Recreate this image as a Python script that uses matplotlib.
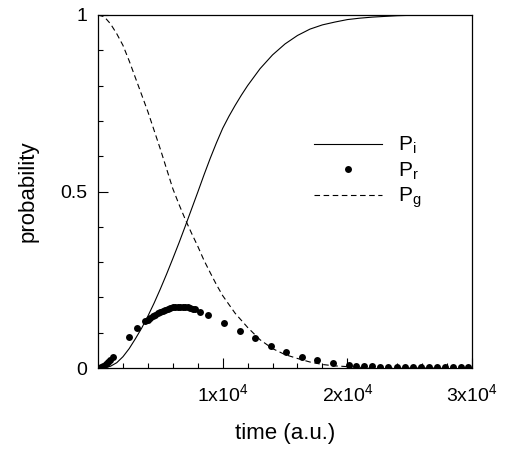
import matplotlib
matplotlib.use('Agg')
import matplotlib.pyplot as plt
import numpy as np

plt.rcParams['font.family'] = ['Liberation Sans', 'DejaVu Sans']
plt.rcParams['mathtext.fontset'] = 'custom'
plt.rcParams['mathtext.rm'] = 'Liberation Sans'
plt.rcParams['mathtext.it'] = 'Liberation Sans'

# P_i (solid line)
t_i = [0, 500, 1000, 1500, 2000, 2500, 3000, 3500, 4000, 4500, 5000, 5500,
       6000, 6500, 7000, 7500, 8000, 8500, 9000, 9500, 10000, 10500,
       11000, 11500, 12000, 13000, 14000, 15000, 16000, 17000, 18000,
       19000, 20000, 21000, 22000, 23000, 24000, 25000, 26000, 30000]
p_i = [0.0, 0.001, 0.005, 0.015, 0.032, 0.055, 0.083, 0.113, 0.147, 0.184,
       0.224, 0.266, 0.310, 0.355, 0.402, 0.450, 0.498, 0.547, 0.594,
       0.638, 0.679, 0.713, 0.744, 0.773, 0.800, 0.848, 0.887, 0.918,
       0.942, 0.960, 0.972, 0.980, 0.987, 0.991, 0.994, 0.996, 0.998,
       0.999, 1.0, 1.0]

# P_g (dashed line)
t_g = [0, 500, 1000, 1500, 2000, 2500, 3000, 3500, 4000, 4500, 5000, 5500,
       6000, 6500, 7000, 7500, 8000, 8500, 9000, 9500, 10000, 11000, 12000,
       13000, 14000, 15000, 16000, 17000, 18000, 19000, 20000, 21000,
       22000, 24000, 30000]
p_g = [1.0, 0.995, 0.975, 0.947, 0.914, 0.870, 0.822, 0.774, 0.726, 0.673,
       0.620, 0.564, 0.508, 0.463, 0.421, 0.382, 0.345, 0.305, 0.270,
       0.236, 0.205, 0.155, 0.115, 0.080, 0.055, 0.038, 0.027, 0.017,
       0.010, 0.006, 0.004, 0.002, 0.001, 0.0, 0.0]

# P_r (dots)
t_r = [200, 400, 600, 800, 1000, 1200, 2500, 3150, 3800,
       4000, 4200, 4400, 4600, 4800, 5000, 5200, 5400, 5600, 5800, 6000,
       6200, 6400, 6600, 6800, 7000, 7200, 7400, 7600, 7800,
       8200, 8850, 10100, 11350, 12600, 13850, 15100, 16350, 17600, 18850,
       20100, 20700, 21350, 22000, 22650, 23300, 23950, 24600, 25250,
       25900, 26550, 27200, 27850, 28500, 29150, 29700]
p_r = [0.003, 0.007, 0.012, 0.018, 0.024, 0.031, 0.089, 0.114, 0.134,
       0.137, 0.142, 0.147, 0.151, 0.155, 0.159, 0.162, 0.165, 0.168, 0.170,
       0.172, 0.173, 0.174, 0.174, 0.174, 0.173, 0.172, 0.170, 0.168, 0.166,
       0.160, 0.150, 0.128, 0.106, 0.084, 0.063, 0.046, 0.032, 0.023, 0.015,
       0.008, 0.006, 0.005, 0.005, 0.004, 0.004, 0.004, 0.003, 0.003,
       0.003, 0.003, 0.002, 0.002, 0.002, 0.002, 0.002]

fig = plt.figure(figsize=(5.17, 4.53), dpi=100)
ax = fig.add_axes([0.1896, 0.1876, 0.7234, 0.7793])

ax.plot(t_i, p_i, color='black', lw=0.8, label='P$_{\\rm i}$')
ax.plot(t_r, p_r, 'o', color='black', ms=5, mew=0, label='P$_{\\rm r}$')
ax.plot(t_g, p_g, color='black', lw=0.8, dashes=(5, 3.2), label='P$_{\\rm g}$')

ax.set_xlim(0, 30000)
ax.set_ylim(0, 1)
ax.set_xticks([10000, 20000, 30000])
ax.set_xticklabels(['1x10$^{4}$', '2x10$^{4}$', '3x10$^{4}$'])
ax.set_xticks(np.arange(2000, 30000, 2000), minor=True)
ax.set_yticks([0, 0.5, 1])
ax.set_yticklabels(['0', '0.5', '1'])
ax.set_yticks(np.arange(0.1, 1.0, 0.1), minor=True)

ax.tick_params(which='both', direction='in', width=0.8, labelsize=14)
ax.tick_params(which='major', length=7)
ax.tick_params(which='minor', length=3.6)
ax.tick_params(axis='x', pad=11)
ax.tick_params(axis='y', pad=8)
for s in ax.spines.values():
    s.set_linewidth(0.9)

ax.set_xlabel('time (a.u.)', fontsize=16, labelpad=13)
ax.set_ylabel('probability', fontsize=16, labelpad=15)

ax.legend(loc='upper left', bbox_to_anchor=(0.554, 0.684), frameon=False,
          fontsize=15, handlelength=3.3, handletextpad=0.75, labelspacing=0.2,
          borderaxespad=0)

fig.savefig('out.png', dpi=100)
